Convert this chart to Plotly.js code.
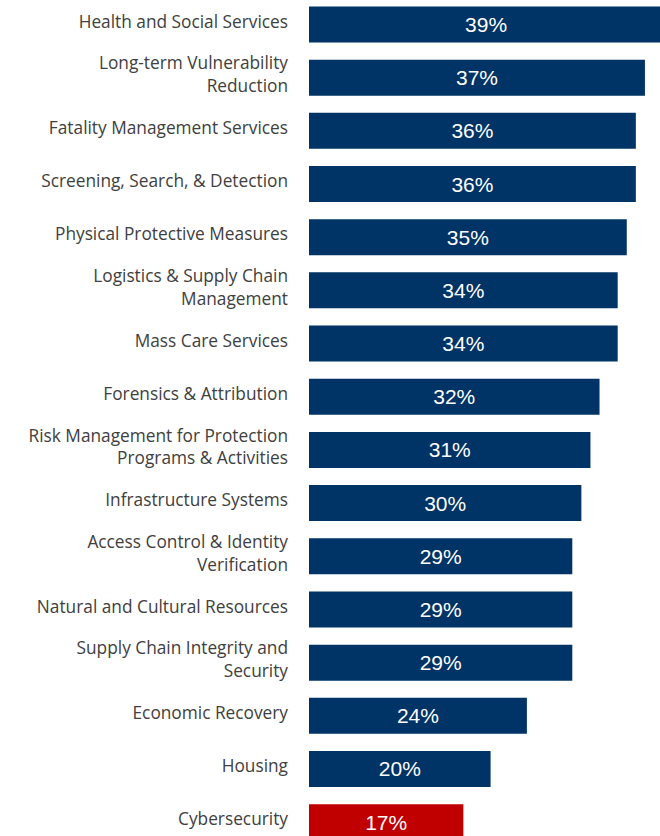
<!DOCTYPE html>
<html>
<head>
<meta charset="utf-8">
<script src="https://cdn.plot.ly/plotly-3.0.1.min.js"></script>
<style>html,body{margin:0;padding:0;background:#fff;}</style>
</head>
<body>
<div id="chart" style="width:660px;height:836px;"></div>
<script>
const categories = [
  "Health and Social Services",
  "Long-term Vulnerability<br>Reduction",
  "Fatality Management Services",
  "Screening, Search, & Detection",
  "Physical Protective Measures",
  "Logistics & Supply Chain<br>Management",
  "Mass Care Services",
  "Forensics & Attribution",
  "Risk Management for Protection<br>Programs & Activities",
  "Infrastructure Systems",
  "Access Control & Identity<br>Verification",
  "Natural and Cultural Resources",
  "Supply Chain Integrity and<br>Security",
  "Economic Recovery",
  "Housing",
  "Cybersecurity"
];
const values = [39, 37, 36, 36, 35, 34, 34, 32, 31, 30, 29, 29, 29, 24, 20, 17];
const highlight = "Cybersecurity";

const colors = categories.map(c => c === highlight ? "#C00000" : "#003366");

const trace = {
  type: "bar",
  orientation: "h",
  x: values,
  y: categories,
  marker: {color: colors},
  text: values.map(v => v + "%"),
  textposition: "inside",
  insidetextanchor: "middle",
  textfont: {family: "Liberation Sans, Arial, sans-serif", size: 21, color: "#ffffff"},
  textangle: 0,
  constraintext: "none",
  hoverinfo: "none",
  cliponaxis: true
};

const layout = {
  width: 660,
  height: 836,
  margin: {l: 309, r: 0, t: 0, b: 0, pad: 0},
  paper_bgcolor: "#ffffff",
  plot_bgcolor: "#ffffff",
  showlegend: false,
  bargap: 0.323,
  xaxis: {
    range: [0, 38.66],
    showgrid: false,
    zeroline: false,
    showticklabels: false,
    showline: false,
    ticks: ""
  },
  yaxis: {
    type: "category",
    range: [15.26, -0.46],
    showgrid: false,
    zeroline: false,
    showline: false,
    ticks: "",
    ticklabelstandoff: 20,
    ticklabelshift: 3,
    tickfont: {family: "Open Sans, sans-serif", size: 17.3, color: "#404040"},
    automargin: false
  }
};

Plotly.newPlot("chart", [trace], layout, {displayModeBar: false, staticPlot: true});
</script>
</body>
</html>
